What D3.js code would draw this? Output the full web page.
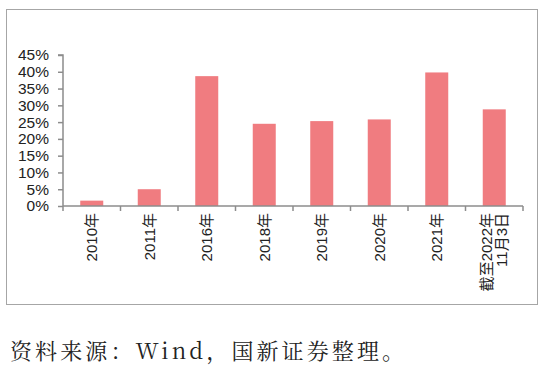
<!DOCTYPE html>
<html><head><meta charset="utf-8">
<script src="https://cdn.jsdelivr.net/npm/d3@7"></script>
<style>body{margin:0;background:#fff;}svg{display:block;}</style>
</head><body>
<script>
const categories = ["2010年","2011年","2016年","2018年","2019年","2020年","2021年","截至2022年\n11月3日"];
const values = [1.6, 5.0, 38.7, 24.5, 25.3, 25.8, 39.8, 28.8];
const yTicks = [0,5,10,15,20,25,30,35,40,45];
const sourceText = "资料来源：Wind，国新证券整理。";

const W = 545, H = 373;
const svg = d3.select("body").append("svg").attr("width", W).attr("height", H);
svg.append("rect").attr("x",6.5).attr("y",9.5).attr("width",531).attr("height",295)
  .attr("fill","#fff").attr("stroke","#a6a6a6").attr("stroke-width",1);

const x = d3.scaleBand().domain(categories).range([63, 523]).paddingInner(0.6).paddingOuter(0.3);
const y = d3.scaleLinear().domain([0,45]).range([206, 55]);

const font = "'Liberation Sans', Arial, 'Noto Sans CJK SC', sans-serif";
const axisColor = "#8c8c8c";

// bars
svg.append("g").selectAll("rect").data(values).join("rect")
  .attr("x",(d,i)=>x(categories[i]))
  .attr("width",x.bandwidth())
  .attr("y",d=>y(d))
  .attr("height",d=>y(0)-y(d))
  .attr("fill","#f07c80");

// y axis
const ya = svg.append("g").attr("transform","translate(63,0)")
  .call(d3.axisLeft(y).tickValues(yTicks).tickFormat(d=>d+"%").tickSize(5).tickPadding(9));
ya.select(".domain").attr("stroke",axisColor).attr("stroke-width",1.5).attr("d","M-5,55H0V206");
ya.selectAll(".tick line").attr("stroke",axisColor).attr("stroke-width",1.5);
ya.selectAll(".tick text").attr("font-family",font).attr("font-size",15.5).attr("fill","#222");

// x axis line and category boundary ticks
const xa = svg.append("g");
const [r0, r1] = x.range();
xa.append("line").attr("x1",r0).attr("x2",r1).attr("y1",206).attr("y2",206)
  .attr("stroke",axisColor).attr("stroke-width",1.5);
const step = (r1 - r0) / categories.length;
d3.range(categories.length+1).forEach(i=>{
  const bx = r0 + i*step;
  xa.append("line").attr("x1",bx).attr("x2",bx).attr("y1",206).attr("y2",211)
    .attr("stroke",axisColor).attr("stroke-width",1.5);
});

// x labels (rotated)
categories.forEach((c,i)=>{
  const cx = x(c) + x.bandwidth()/2;
  const lines = c.split("\n");
  const g = xa.append("g").attr("transform",`translate(${cx},213) rotate(-90)`);
  lines.forEach((ln,j)=>{
    const off = (j - (lines.length-1)/2) * 15;
    g.append("text").attr("x",0).attr("y",off).attr("dy","0.35em")
      .attr("text-anchor","end").attr("font-family",font).attr("font-size",15)
      .attr("fill","#222").text(ln);
  });
});

// source note
svg.append("text").attr("x",10).attr("y",359)
  .attr("font-family","'Noto Serif CJK SC','Noto Sans CJK SC',serif")
  .attr("font-size",22).attr("fill","#222")
  .attr("textLength",394).attr("lengthAdjust","spacing")
  .text(sourceText);
</script>
</body></html>
